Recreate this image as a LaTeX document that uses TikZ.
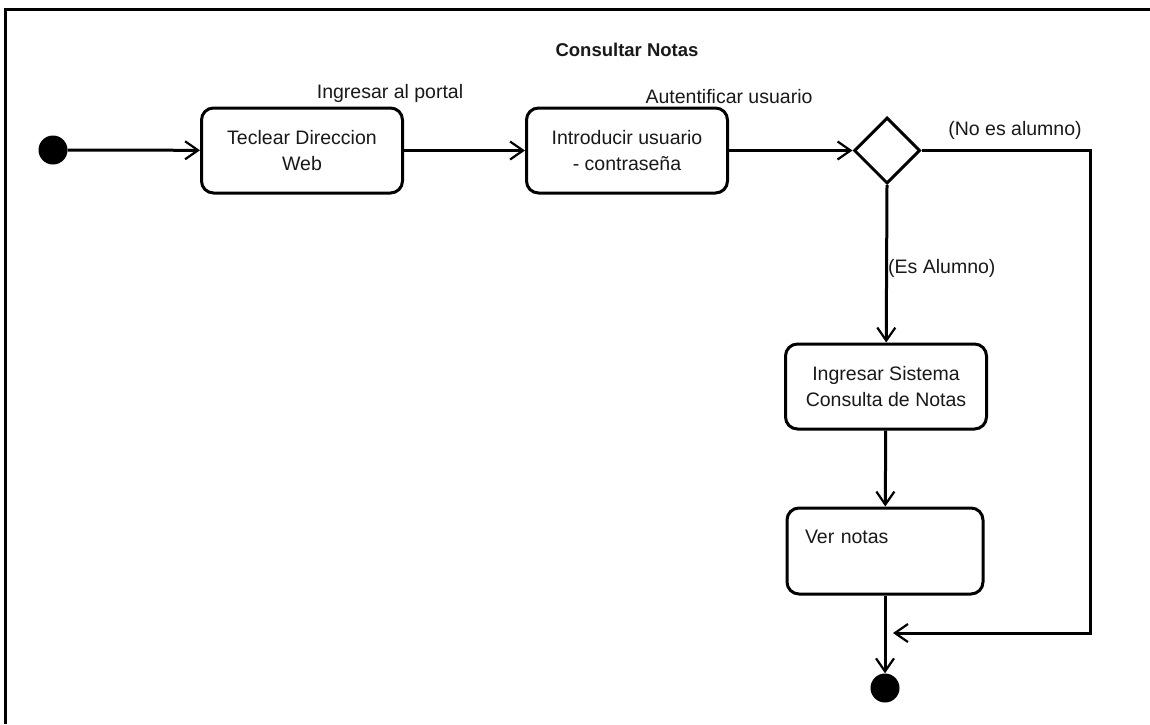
\documentclass[tikz,border=0pt]{standalone}
\usepackage{fontspec}
\setmainfont{Liberation Sans}
\usetikzlibrary{arrows.meta,shapes.geometric}
\begin{document}
\begin{tikzpicture}[x=1pt,y=-1pt,
  every node/.style={font=\fontsize{19.5}{26}\selectfont, text=black!90},
  activity/.style={draw, line width=3pt, rounded corners=12pt, align=center,
    minimum width=201pt, minimum height=85pt, inner sep=0pt},
  flow/.style={line width=3pt, -{Straight Barb[length=13pt,width=18pt,line width=2.2pt]}},
  dot/.style={circle, fill=black, inner sep=0pt, minimum size=29pt},
  guard/.style={inner sep=0pt}]
\useasboundingbox (0,0) rectangle (1150,724);
\fill[white] (0,0) rectangle (1150,724);
% frame
\draw[line width=3.5pt] (5.5,9.5) -- (1150,9.5);
\draw[line width=3.5pt] (5.5,8) -- (5.5,724);

\node[guard, font=\bfseries\fontsize{18.5}{22}\selectfont] (title) at (627,50) {Consultar Notas};

% nodes
\node[dot] (start) at (53,150) {};
\node[activity] (teclear) at (302,150.5) {Teclear Direccion\\Web};
\node[activity] (intro) at (627,150.5) {Introducir usuario\\- contraseña};
\node[draw, diamond, line width=3pt, minimum width=66pt, minimum height=66pt, inner sep=0pt, aspect=1] (dec) at (887,150.5) {};
\node[activity] (sistema) at (886,386.5) {Ingresar Sistema\\Consulta de Notas};
\node[activity, align=left, text width=160pt, minimum width=196pt, minimum height=86pt] (ver) at (885,551) {Ver notas\\[2pt]\mbox{}};
\node[dot] (fin) at (885,688) {};
\coordinate (merge) at (885,633);
\coordinate (rt) at (1090,633);

% labels
\node[guard] (l1) at (390,93) {Ingresar al portal};
\node[guard] (l2) at (729,97) {Autentificar usuario};
\node[guard] (l3) at (1015,130) {(No es alumno)};
\node[guard, anchor=west] (l4) at (888,268) {(Es Alumno)};

% connectors
\draw[flow] (start) -- (teclear);
\draw[flow] (teclear) -- (intro);
\draw[flow] (intro.east) -- (dec.west);
\draw[flow] (dec.south) -- (sistema);
\draw[flow] (sistema) -- (ver);
\draw[flow] (ver) -- (fin);
\draw[flow, shorten >=8pt] (dec.east) -| (rt) -- (merge);
\end{tikzpicture}
\end{document}
